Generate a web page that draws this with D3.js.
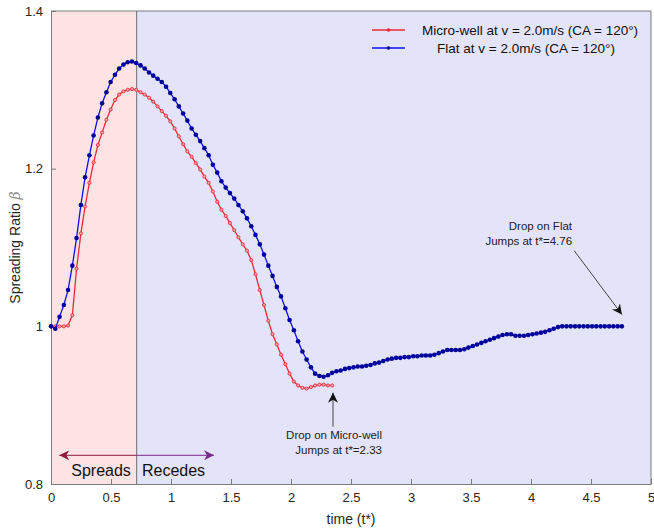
<!DOCTYPE html>
<html>
<head>
<meta charset="utf-8">
<script src="https://cdn.jsdelivr.net/npm/d3@7"></script>
<style>
  body { margin: 0; background: #fff; }
  svg { display: block; font-family: "Liberation Sans", Arial, sans-serif; }
</style>
</head>
<body>
<div id="chart"></div>
<script>
// time samples (t*) shared by both series
const times = [0, 0.036, 0.071, 0.107, 0.142, 0.178, 0.213, 0.249, 0.284, 0.320,
  0.355, 0.391, 0.426, 0.462, 0.497, 0.533, 0.568, 0.604, 0.639, 0.675,
  0.710, 0.746, 0.781, 0.817, 0.852, 0.888, 0.923, 0.959, 0.994, 1.030,
  1.065, 1.101, 1.136, 1.172, 1.207, 1.243, 1.278, 1.314, 1.349, 1.385,
  1.420, 1.456, 1.491, 1.527, 1.562, 1.598, 1.633, 1.669, 1.704, 1.740,
  1.775, 1.811, 1.846, 1.882, 1.917, 1.953, 1.988, 2.024, 2.059, 2.095,
  2.130, 2.166, 2.201, 2.237, 2.272, 2.308, 2.343, 2.379, 2.414, 2.450,
  2.485, 2.521, 2.556, 2.592, 2.627, 2.663, 2.698, 2.734, 2.769, 2.805,
  2.840, 2.876, 2.911, 2.947, 2.982, 3.018, 3.053, 3.089, 3.124, 3.160,
  3.195, 3.231, 3.266, 3.302, 3.337, 3.373, 3.408, 3.444, 3.479, 3.515,
  3.550, 3.586, 3.621, 3.657, 3.692, 3.728, 3.763, 3.799, 3.834, 3.870,
  3.905, 3.941, 3.976, 4.012, 4.047, 4.083, 4.118, 4.154, 4.189, 4.225,
  4.260, 4.296, 4.331, 4.367, 4.402, 4.438, 4.473, 4.509, 4.544, 4.580,
  4.615, 4.651, 4.686, 4.722, 4.757];

const microWell = [1.000, 1.000, 1.000, 1.000, 1.001, 1.014, 1.073, 1.118, 1.152, 1.182,
  1.208, 1.230, 1.246, 1.262, 1.275, 1.287, 1.294, 1.298, 1.300, 1.301,
  1.300, 1.297, 1.294, 1.290, 1.285, 1.279, 1.273, 1.267, 1.260, 1.251,
  1.241, 1.231, 1.222, 1.215, 1.207, 1.199, 1.190, 1.182, 1.171, 1.158,
  1.148, 1.140, 1.131, 1.122, 1.113, 1.104, 1.096, 1.084, 1.066, 1.046,
  1.027, 1.007, 0.990, 0.977, 0.964, 0.952, 0.940, 0.930, 0.925, 0.922,
  0.921, 0.923, 0.925, 0.926, 0.926, 0.925, 0.925];

const flat = [1.000, 0.997, 1.012, 1.027, 1.046, 1.077, 1.112, 1.154, 1.189, 1.217,
  1.242, 1.265, 1.283, 1.297, 1.310, 1.319, 1.327, 1.332, 1.335, 1.336,
  1.334, 1.331, 1.327, 1.322, 1.318, 1.314, 1.310, 1.304, 1.296, 1.288,
  1.279, 1.270, 1.261, 1.251, 1.243, 1.235, 1.226, 1.217, 1.205, 1.195,
  1.184, 1.176, 1.169, 1.162, 1.154, 1.146, 1.137, 1.127, 1.116, 1.104,
  1.091, 1.077, 1.064, 1.050, 1.038, 1.023, 1.008, 0.995, 0.981, 0.968,
  0.958, 0.948, 0.940, 0.937, 0.936, 0.938, 0.941, 0.943, 0.944, 0.946,
  0.947, 0.948, 0.949, 0.949, 0.950, 0.951, 0.953, 0.954, 0.956, 0.958,
  0.959, 0.960, 0.960, 0.961, 0.961, 0.962, 0.962, 0.963, 0.963, 0.963,
  0.964, 0.966, 0.968, 0.970, 0.970, 0.970, 0.970, 0.971, 0.973, 0.975,
  0.977, 0.979, 0.981, 0.983, 0.985, 0.987, 0.989, 0.990, 0.990, 0.988,
  0.988, 0.988, 0.989, 0.990, 0.991, 0.992, 0.993, 0.995, 0.997, 0.999,
  1.000, 1.000, 1.000, 1.000, 1.000, 1.000, 1.000, 1.000, 1.000, 1.000,
  1.000, 1.000, 1.000, 1.000, 1.000];

const seriesNames = ["Micro-well at v = 2.0m/s (CA = 120°)", "Flat at v = 2.0m/s (CA = 120°)"];
const xTicks = [0, 0.5, 1, 1.5, 2, 2.5, 3, 3.5, 4, 4.5, 5];
const yTicks = [0.8, 1, 1.2, 1.4];
const phaseSplit = 0.714;   // spreads -> recedes boundary

// Specify the chart’s dimensions.
const width = 654;
const height = 530;
const marginTop = 11;
const marginRight = 3;
const marginBottom = 46;
const marginLeft = 51;

const x = d3.scaleLinear()
  .domain([0, 5])
  .range([marginLeft, width - marginRight]);

const y = d3.scaleLinear()
  .domain([0.8, 1.4])
  .range([height - marginBottom, marginTop]);

const svg = d3.select("#chart")
  .append("svg")
  .attr("width", width)
  .attr("height", height)
  .attr("viewBox", [0, 0, width, height]);

const defs = svg.append("defs");
function addHead(id, color) {
  defs.append("marker")
    .attr("id", id)
    .attr("viewBox", "0 -5 10 10")
    .attr("refX", 10).attr("refY", 0)
    .attr("markerWidth", 10).attr("markerHeight", 10)
    .attr("markerUnits", "userSpaceOnUse")
    .attr("orient", "auto-start-reverse")
    .append("path")
    .attr("d", "M0,-5L10,0L0,5L3,0Z")
    .attr("fill", color);
}
addHead("headBlack", "#111");
addHead("headRed", "#8e1a3c");
addHead("headPurple", "#7a2b8c");

// shaded phases
svg.append("rect")
  .attr("x", x(0)).attr("y", y(1.4))
  .attr("width", x(phaseSplit) - x(0))
  .attr("height", y(0.8) - y(1.4))
  .attr("fill", "#fde3e3");
svg.append("rect")
  .attr("x", x(phaseSplit)).attr("y", y(1.4))
  .attr("width", x(5) - x(phaseSplit))
  .attr("height", y(0.8) - y(1.4))
  .attr("fill", "#e3e3fa");

svg.append("line")
  .attr("x1", x(phaseSplit)).attr("x2", x(phaseSplit))
  .attr("y1", y(1.4)).attr("y2", y(0.8))
  .attr("stroke", "#6e6e6e").attr("stroke-width", 1);

// Axes, ticks pointing inward like matlab
const axisColor = "#7a7a7a";
svg.append("g")
  .attr("transform", `translate(0,${y(0.8)})`)
  .call(d3.axisBottom(x).tickValues(xTicks).tickSize(-5).tickPadding(9).tickSizeOuter(0)
    .tickFormat(d3.format("~g")))
  .call(g => g.select(".domain").attr("stroke", axisColor))
  .call(g => g.selectAll(".tick line").attr("stroke", axisColor))
  .call(g => g.selectAll(".tick text").attr("fill", "#262626").style("font-size", "13px"));

svg.append("g")
  .attr("transform", `translate(${x(0)},0)`)
  .call(d3.axisLeft(y).tickValues(yTicks).tickSize(-5).tickPadding(8).tickSizeOuter(0)
    .tickFormat(d3.format("~g")))
  .call(g => g.select(".domain").attr("stroke", axisColor))
  .call(g => g.selectAll(".tick line").attr("stroke", axisColor))
  .call(g => g.selectAll(".tick text").attr("fill", "#262626").style("font-size", "13px"));

// top and right box edges
svg.append("path")
  .attr("d", `M${x(0)},${y(1.4)}H${x(5)}V${y(0.8)}`)
  .attr("fill", "none").attr("stroke", axisColor);

// axis titles
svg.append("text")
  .attr("x", (x(0) + x(5)) / 2).attr("y", 524)
  .attr("text-anchor", "middle")
  .style("font-size", "14px").attr("fill", "#262626")
  .text("time (t*)");

const yl = svg.append("text")
  .attr("transform", `translate(20,${(y(0.8) + y(1.4)) / 2}) rotate(-90)`)
  .attr("text-anchor", "middle")
  .style("font-size", "14px").attr("fill", "#262626");
yl.append("tspan").text("Spreading Ratio ");
yl.append("tspan").attr("font-family", "DejaVu Serif").attr("font-style", "italic")
  .attr("fill", "#8a8a8a").text("β");

// lines
const redPts = microWell.map((v, i) => [times[i], v]);
const bluePts = flat.map((v, i) => [times[i], v]);
const line = d3.line().x(d => x(d[0])).y(d => y(d[1]));

svg.append("path").datum(redPts)
  .attr("fill", "none").attr("stroke", "#ee2a35").attr("stroke-width", 1.3)
  .attr("d", line);
svg.append("g").selectAll("circle").data(redPts).join("circle")
  .attr("cx", d => x(d[0])).attr("cy", d => y(d[1]))
  .attr("r", 1.6)
  .attr("fill", "#f7a0a5").attr("stroke", "#e8243a").attr("stroke-width", 0.8);

svg.append("path").datum(bluePts)
  .attr("fill", "none").attr("stroke", "#1010ee").attr("stroke-width", 1.3)
  .attr("d", line);
svg.append("g").selectAll("circle").data(bluePts).join("circle")
  .attr("cx", d => x(d[0])).attr("cy", d => y(d[1]))
  .attr("r", 2.3).attr("fill", "#00009a");

// legend
const legend = svg.append("g");
const legendRows = [
  { name: seriesNames[0], color: "#ee2a35", mark: "#e8243a", cx: 530, y: 30 },
  { name: seriesNames[1], color: "#1010ee", mark: "#00009a", cx: 526, y: 48 }
];
legendRows.forEach(r => {
  legend.append("line").attr("x1", 372).attr("x2", 405).attr("y1", r.y).attr("y2", r.y)
    .attr("stroke", r.color).attr("stroke-width", 1.3);
  legend.append("circle").attr("cx", 388.5).attr("cy", r.y).attr("r", 1.8).attr("fill", r.mark);
  legend.append("text").attr("x", r.cx).attr("y", r.y + 5)
    .attr("text-anchor", "middle").style("font-size", "13.5px").attr("fill", "#111")
    .text(r.name);
});

// annotations
const notes = [
  { lines: ["Drop on Flat", "Jumps at t*=4.76"], t: 4.342, v: 1.1226, from: [4.36, 1.096], to: [4.758, 1.015] },
  { lines: ["Drop on Micro-well", "Jumps at t*=2.33"], t: 2.758, v: 0.8576, from: [2.35, 0.8727], to: [2.35, 0.9159] }
];
notes.forEach(n => {
  n.lines.forEach((s, i) => {
    svg.append("text").attr("x", x(n.t)).attr("y", y(n.v) + i * 15)
      .attr("text-anchor", "end").style("font-size", "11.5px").attr("fill", "#222")
      .text(s);
  });
  svg.append("line")
    .attr("x1", x(n.from[0])).attr("y1", y(n.from[1]))
    .attr("x2", x(n.to[0])).attr("y2", y(n.to[1]))
    .attr("stroke", "#333").attr("stroke-width", 0.9)
    .attr("marker-end", "url(#headBlack)");
});

// spreads / recedes double arrow
const arrowV = 0.8364;
const arrowMid = (0.069 + 1.358) / 2;
svg.append("line")
  .attr("x1", x(arrowMid)).attr("x2", x(0.069))
  .attr("y1", y(arrowV)).attr("y2", y(arrowV))
  .attr("stroke", "#8e1a3c").attr("stroke-width", 1)
  .attr("marker-end", "url(#headRed)");
svg.append("line")
  .attr("x1", x(arrowMid)).attr("x2", x(1.358))
  .attr("y1", y(arrowV)).attr("y2", y(arrowV))
  .attr("stroke", "#7a2b8c").attr("stroke-width", 1)
  .attr("marker-end", "url(#headPurple)");

svg.append("text").attr("x", x(0.417)).attr("y", y(0.8107))
  .attr("text-anchor", "middle").style("font-size", "16px").attr("fill", "#111")
  .text("Spreads");
svg.append("text").attr("x", x(1.021)).attr("y", y(0.8107))
  .attr("text-anchor", "middle").style("font-size", "16px").attr("fill", "#111")
  .text("Recedes");
</script>
</body>
</html>
